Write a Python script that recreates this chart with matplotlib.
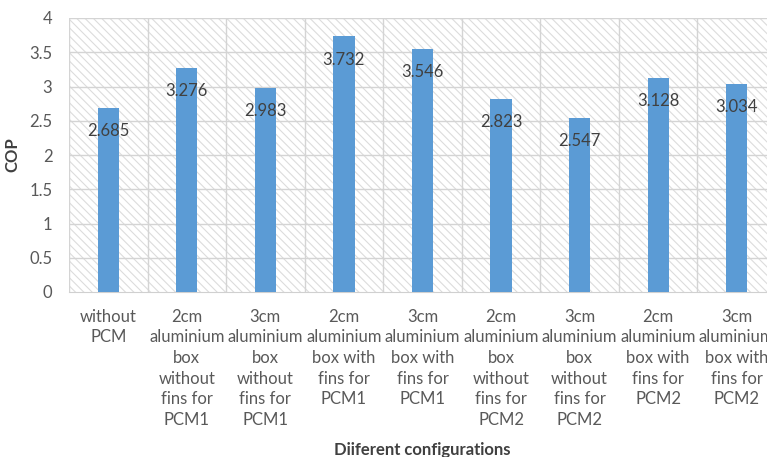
import matplotlib.pyplot as plt
from matplotlib.patches import Rectangle
import numpy as np

# Data
configs = [
    "without\nPCM",
    "2cm\naluminium\nbox\nwithout\nfins for\nPCM1",
    "3cm\naluminium\nbox\nwithout\nfins for\nPCM1",
    "2cm\naluminium\nbox with\nfins for\nPCM1",
    "3cm\naluminium\nbox with\nfins for\nPCM1",
    "2cm\naluminium\nbox\nwithout\nfins for\nPCM2",
    "3cm\naluminium\nbox\nwithout\nfins for\nPCM2",
    "2cm\naluminium\nbox with\nfins for\nPCM2",
    "3cm\naluminium\nbox with\nfins for\nPCM2",
]
cop = [2.685, 3.276, 2.983, 3.732, 3.546, 2.823, 2.547, 3.128, 3.034]
yticks = [0, 0.5, 1, 1.5, 2, 2.5, 3, 3.5, 4]

plt.rcParams['font.family'] = ['Lato', 'DejaVu Sans']
plt.rcParams['hatch.linewidth'] = 0.8

fig = plt.figure(figsize=(7.67, 4.57), dpi=100)
# plot area runs past the right edge, as in the cropped original
ax = fig.add_axes([69 / 767, 1 - 292 / 457, 707 / 767, 274 / 457])

# hatched plot-area background
bg = Rectangle((0, 0), 1, 1, transform=ax.transAxes, facecolor='white',
               edgecolor='#dcdcdc', hatch='\\\\\\\\', linewidth=0, zorder=0)
ax.add_patch(bg)

x = np.arange(len(configs))
ax.set_xlim(-0.5, len(configs) - 0.5)
ax.set_ylim(0, 4)

# gridlines
for yv in yticks[1:]:
    ax.axhline(yv, color='#d4d4d4', lw=1, zorder=1)
for xv in np.arange(-0.5, len(configs) + 0.5, 1):
    ax.axvline(xv, color='#d4d4d4', lw=1, zorder=1)

ax.bar(x, cop, width=0.27, color='#5B9BD5', zorder=3)

for xi, v in zip(x, cop):
    ax.annotate(f'{v:.3f}', (xi, v), xytext=(0, -11), textcoords='offset points',
                ha='center', va='top', fontsize=12, color='#404040', zorder=4)

for s in ['top', 'right', 'left']:
    ax.spines[s].set_visible(False)
ax.spines['bottom'].set_color('#d0d0d0')
ax.spines['bottom'].set_zorder(2)

ax.set_yticks(yticks)
ax.set_yticklabels([f'{t:g}' for t in yticks])
ax.set_xticks(x)
ax.set_xticklabels(configs, linespacing=1.36)
ax.tick_params(axis='y', length=0, pad=12, labelsize=12, labelcolor='#595959')
ax.tick_params(axis='x', length=0, pad=12, labelsize=12, labelcolor='#595959')

ax.set_ylabel('COP', fontsize=12, fontweight='bold', color='#404040', labelpad=6)
ax.set_xlabel('Diiferent configurations', fontsize=12, fontweight='bold',
              color='#404040', labelpad=10)

fig.savefig('out.png', dpi=100)
